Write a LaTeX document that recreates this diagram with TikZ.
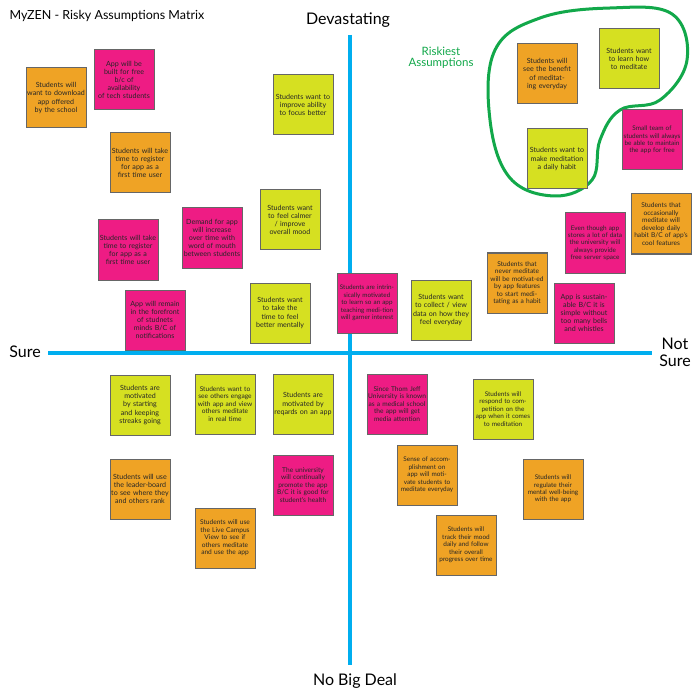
\documentclass[tikz,border=0pt]{standalone}
\usepackage{fontspec}
\setmainfont{Lato}
\begin{document}
\begin{tikzpicture}[x=1pt,y=-1pt,
  note/.style={draw=black!60,line width=1pt,minimum width=60pt,minimum height=60pt,text width=58pt,align=center,inner sep=1pt,font=\fontsize{7.1}{8.1}\selectfont,text=black!85},
  or/.style={note,fill=orOne},
  pk/.style={note,fill=pkOne},
  ye/.style={note,fill=yeOne},
  axis/.style={draw=axisC,line width=4.5pt},
  lab/.style={font=\fontsize{16}{17}\selectfont}]
\definecolor{orOne}{HTML}{EFA325}
\definecolor{pkOne}{HTML}{EE1C84}
\definecolor{yeOne}{HTML}{D6E021}
\definecolor{axisC}{HTML}{00AEEF}
\definecolor{blobC}{HTML}{12A84A}
\useasboundingbox (0,0) rectangle (700,700);
\fill[white] (0,0) rectangle (700,700);
\coordinate (vt) at (350,35); \coordinate (vb) at (350,665);
\coordinate (hl) at (48,353); \coordinate (hr) at (652,353);
\draw[axis] (vt) -- (vb);
\draw[axis] (hl) -- (hr);
\node[lab] (dev) at (348,20) {Devastating};
\node[lab] (nbd) at (355,681) {No Big Deal};
\node[lab] (sure) at (25,352) {Sure};
\node[lab,align=center] (ns) at (675,352) {Not\\Sure};
\node[anchor=west,font=\fontsize{12.5}{13}\selectfont] (title) at (6,16) {MyZEN - Risky Assumptions Matrix};
\node[text=blobC,align=center,font=\fontsize{11.5}{11.5}\selectfont] (risk) at (441,58) {Riskiest\\Assumptions};
\draw[blobC,line width=3pt] plot[smooth cycle,tension=0.65] coordinates {(495,50) (540,18) (610,8) (672,14) (687,60) (660,100) (620,110) (600,140) (592,180) (555,196) (510,178) (490,120)};
\node[or] (n1) at (56,98) {Students will want to download app offered by the school};
\node[pk] (n2) at (124,80) {App will be built for free\\b/c of\\availability\\of tech students};
\node[ye] (n3) at (303,105) {Students want to improve ability to focus better};
\node[or] (n4) at (140,163) {Students will take time to register for app as a first time user};
\node[pk] (n5) at (128,250) {Students will take time to register for app as a first time user};
\node[pk] (n6) at (212,238) {Demand for app will increase over time with word of mouth between students};
\node[ye] (n7) at (290,220) {Students want to feel calmer / improve overall mood};
\node[pk] (n8) at (155,320) {App will remain in the forefront of studnets minds B/C of notifications};
\node[ye] (n9) at (280,313) {Students want to take the time to feel better mentally};
\node[pk,font=\fontsize{6.3}{7.4}\selectfont] (n10) at (367,303) {Students are intrinsically motivated to learn so an app teaching medi-tion will garner interest};
\node[ye] (n11) at (441,310) {Students want to collect / view data on how they feel everyday};
\node[or,font=\fontsize{6.6}{7.5}\selectfont] (n12) at (517,283) {Students that never meditate will be motivat-ed by app features to start meditating as a habit};
\node[pk] (n13) at (584,313) {App is sustain-able B/C it is simple without too many bells and whistles};
\node[pk,font=\fontsize{6.4}{7.4}\selectfont] (n14) at (595,243) {Even though app stores a lot of data the university will always provide free server space};
\node[or,font=\fontsize{6.6}{7.5}\selectfont] (n15) at (661,224) {Students that occasionally meditate will develop daily habit B/C of app's cool features};
\node[or] (n16) at (547,74) {Students will see the benefit of meditating everyday};
\node[ye] (n17) at (629,59) {Students want to learn how to meditate};
\node[ye] (n18) at (557,159) {Students want to make meditation a daily habit};
\node[pk,font=\fontsize{6.4}{7.4}\selectfont] (n19) at (652,140) {Small team of students will always be able to maintain the app for free};
\node[ye] (n20) at (140,405) {Students are motivated by starting and keeping streaks going};
\node[ye,font=\fontsize{6.6}{7.5}\selectfont] (n21) at (225,404) {Students want to see others engage with app and view others meditate in real time};
\node[ye] (n22) at (303,404) {Students are motivated by reqards on an app};
\node[or] (n23) at (140,489) {Students will use the leader-board to see where they and others rank};
\node[pk,font=\fontsize{6.6}{7.5}\selectfont] (n24) at (303,485) {The university will continually promote the app B/C it is good for student's health};
\node[or,font=\fontsize{6.6}{7.5}\selectfont] (n25) at (225,538) {Students will use the Live Campus View to see if others meditate and use the app};
\node[pk,font=\fontsize{6.6}{7.5}\selectfont] (n26) at (397,404) {Since Thom Jeff University is known as a medical school the app will get media attention};
\node[ye,font=\fontsize{6.4}{7.4}\selectfont] (n27) at (503,409) {Students will respond to competition on the app when it comes to meditation};
\node[or,font=\fontsize{6.4}{7.4}\selectfont] (n28) at (427,475) {Sense of accom-plishment on app will motivate students to meditate everyday};
\node[or,font=\fontsize{6.4}{7.4}\selectfont] (n29) at (553,489) {Students will regulate their mental well-being with the app};
\node[or,font=\fontsize{6.4}{7.4}\selectfont] (n30) at (466,545) {Students will track their mood daily and follow their overall progress over time};
\end{tikzpicture}
\end{document}
